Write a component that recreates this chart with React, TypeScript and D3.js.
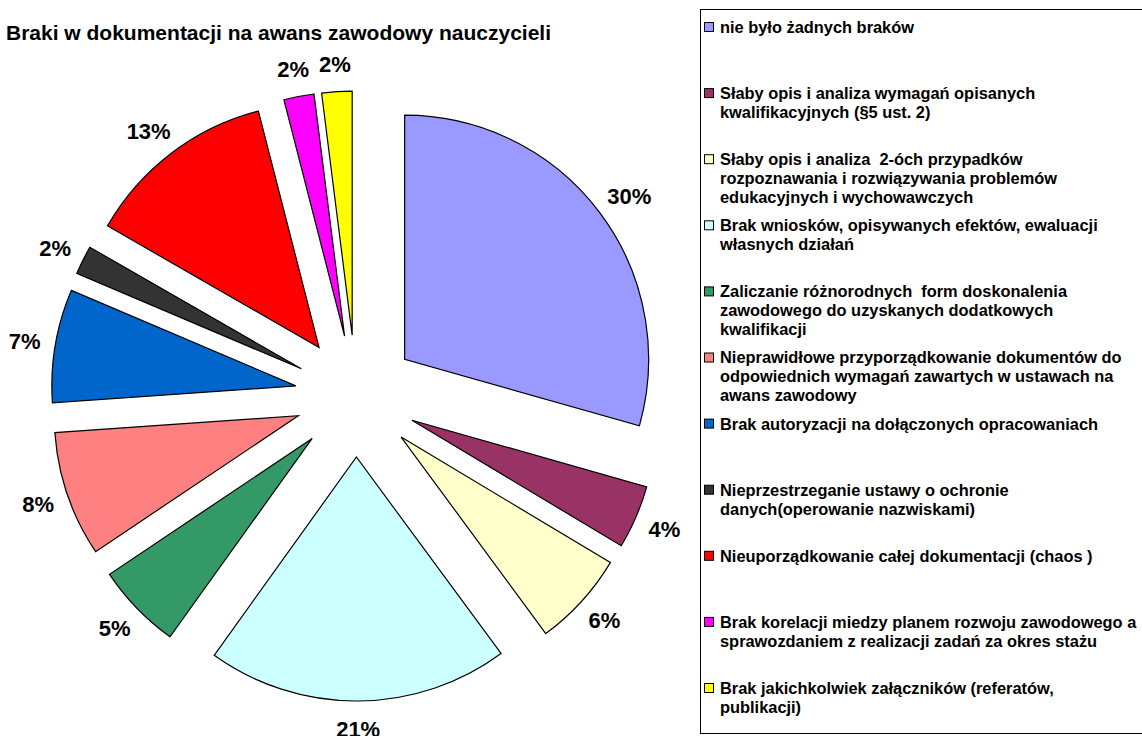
import * as d3 from 'd3';

const categories = [
  ['nie było żadnych braków'],
  ['Słaby opis i analiza wymagań opisanych', 'kwalifikacyjnych (§5 ust. 2)'],
  ['Słaby opis i analiza  2-óch przypadków', 'rozpoznawania i rozwiązywania problemów', 'edukacyjnych i wychowawczych'],
  ['Brak wniosków, opisywanych efektów, ewaluacji', 'własnych działań'],
  ['Zaliczanie różnorodnych  form doskonalenia', 'zawodowego do uzyskanych dodatkowych', 'kwalifikacji'],
  ['Nieprawidłowe przyporządkowanie dokumentów do', 'odpowiednich wymagań zawartych w ustawach na', 'awans zawodowy'],
  ['Brak autoryzacji na dołączonych opracowaniach'],
  ['Nieprzestrzeganie ustawy o ochronie', 'danych(operowanie nazwiskami)'],
  ['Nieuporządkowanie całej dokumentacji (chaos )'],
  ['Brak korelacji miedzy planem rozwoju zawodowego a', 'sprawozdaniem z realizacji zadań za okres stażu'],
  ['Brak jakichkolwiek załączników (referatów,', 'publikacji)'],
];

// shares
const values = [29.4, 4.2, 6.3, 20.0, 5.7, 8.3, 7.5, 1.9, 12.7, 2.0, 2.0];

// percentage labels as printed on the chart
const pctLabels = ['30%', '4%', '6%', '21%', '5%', '8%', '7%', '2%', '13%', '2%', '2%'];

const colors = [
  '#9999FF', '#993366', '#FFFFCC', '#CCFFFF', '#339966', '#FF8080',
  '#0066CC', '#333333', '#FF0000', '#FF00FF', '#FFFF00',
];

const title = 'Braki w dokumentacji na awans zawodowy nauczycieli';

const W = 1142;
const H = 736;
const cx = 356;
const cy = 396;
const radius = 244;
const explode = 61;
const font = '"Liberation Sans", Arial, sans-serif';

const App = () => {
  const pie = d3
    .pie<number>()
    .sort(null)
    .value((d) => d)
    .startAngle(0)
    .endAngle(2 * Math.PI);
  const arcs = pie(values);
  const arc = d3.arc<d3.PieArcDatum<number>>().innerRadius(0).outerRadius(radius);

  const legendY = d3
    .scalePoint<number>()
    .domain(d3.range(categories.length))
    .range([27, 688]);

  return (
    <svg
      width={W}
      height={H}
      style={{ position: 'absolute', left: 0, top: 0, fontFamily: font }}
    >
      <rect x={0} y={0} width={W} height={H} fill="#fff" />
      <text x={6} y={40} fontSize={21} fontWeight="bold" fill="#000">
        {title}
      </text>

      <g transform={`translate(${cx},${cy})`}>
        {arcs.map((a, i) => {
          const mid = (a.startAngle + a.endAngle) / 2;
          const dx = Math.sin(mid);
          const dy = -Math.cos(mid);
          const ox = dx * explode;
          const oy = dy * explode;
          const lbl = pctLabels[i];
          const w = lbl.length * 13;
          const h = 20;
          const r0 = 262;
          const lx = ox + dx * r0 + (dx * w) / 2;
          const ly = oy + dy * r0 + (dy * h) / 2;
          return (
            <g key={i}>
              <path
                d={arc(a) || ''}
                transform={`translate(${ox},${oy})`}
                fill={colors[i]}
                stroke="#000"
                strokeWidth={1.2}
                strokeLinejoin="miter"
              />
              <text
                x={lx}
                y={ly}
                dy="0.38em"
                textAnchor="middle"
                fontSize={22}
                fontWeight="bold"
                fill="#000"
              >
                {lbl}
              </text>
            </g>
          );
        })}
      </g>

      <rect x={700.5} y={9.5} width={460} height={724} fill="none" stroke="#000" strokeWidth={1} />
      {categories.map((lines, i) => {
        const y0 = legendY(i) as number;
        return (
          <g key={i}>
            <rect x={704.5} y={y0 - 4.5} width={9} height={9} fill={colors[i]} stroke="#000" strokeWidth={1} />
            <text fontSize={16.4} fontWeight="bold" fill="#000" style={{ whiteSpace: 'pre' }}>
              {lines.map((ln, j) => (
                <tspan key={j} x={720} y={y0 + j * 19} dy="0.36em">
                  {ln}
                </tspan>
              ))}
            </text>
          </g>
        );
      })}
    </svg>
  );
};

export default App;
